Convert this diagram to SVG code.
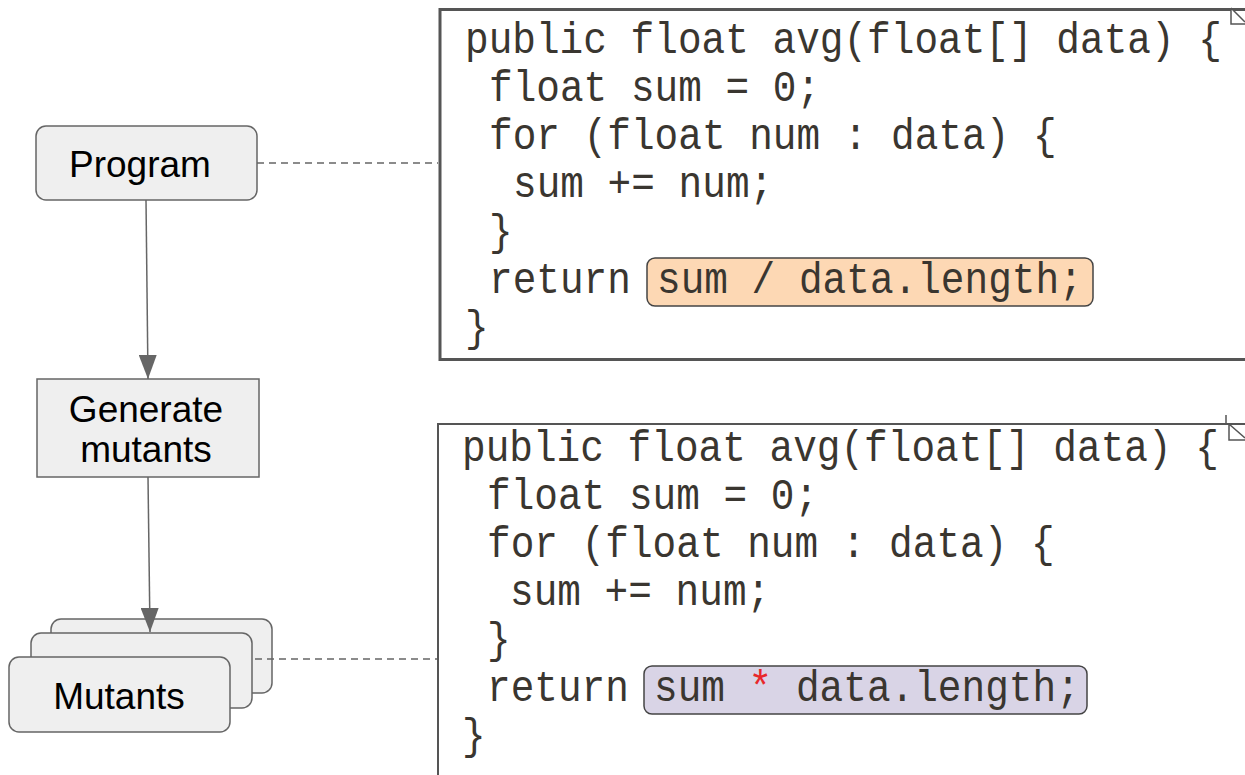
<svg xmlns="http://www.w3.org/2000/svg" width="1245" height="775" viewBox="0 0 1245 775">
<defs>
<marker id="ah" viewBox="0 0 24 18" refX="24" refY="9" markerWidth="24" markerHeight="18" markerUnits="userSpaceOnUse" orient="auto">
<path d="M0,0 L24,9 L0,18 Z" fill="#666"/>
</marker>
<style>
.node{fill:#efefef;stroke:#666;stroke-width:1.5}
.lbl{font-family:"Liberation Sans",Arial,sans-serif;font-size:37px;fill:#000;text-anchor:middle}
.code{font-family:"Liberation Mono","DejaVu Sans Mono",monospace;font-size:44px;fill:#3a3630}
.dash{stroke:#666;stroke-width:1.5;stroke-dasharray:7,5;fill:none}
.arr{stroke:#666;stroke-width:1.5;fill:none}
.panel{fill:#fff;stroke:#555}
</style>
</defs>
<rect width="1245" height="775" fill="#fff"/>
<g id="program">
<rect class="node" x="36" y="126" width="221" height="74" rx="10"/>
<text class="lbl" x="140" y="177">Program</text>
</g>
<g id="generate">
<rect class="node" x="37" y="379" width="222" height="98"/>
<text class="lbl" x="146" y="422">Generate</text>
<text class="lbl" x="146" y="462">mutants</text>
</g>
<g id="mutants">
<rect class="node" x="51" y="619" width="221" height="74" rx="10"/>
<rect class="node" x="31" y="633" width="221" height="75" rx="10"/>
<rect class="node" x="9" y="657" width="221" height="75" rx="10"/>
<text class="lbl" x="119" y="709">Mutants</text>
</g>
<g id="code-original">
<rect class="panel" x="440" y="9.5" width="820" height="350" stroke-width="3"/>
<path d="M1231,8 V24 H1245 M1231,8 L1245,22" stroke="#555" stroke-width="1.5" fill="#fff"/>
<rect x="647" y="258" width="446" height="48" rx="8" fill="#fdd8b4" stroke="#444" stroke-width="1.5"/>
<text class="code" transform="translate(465,53) scale(0.896,1)">public float avg(float[] data) {</text>
<text class="code" transform="translate(489,101) scale(0.896,1)">float sum = 0;</text>
<text class="code" transform="translate(489,149) scale(0.896,1)">for (float num : data) {</text>
<text class="code" transform="translate(513,197) scale(0.896,1)">sum += num;</text>
<text class="code" transform="translate(489,245) scale(0.896,1)">}</text>
<text class="code" transform="translate(489,293) scale(0.896,1)">return</text>
<text class="code" transform="translate(657,293) scale(0.896,1)">sum / data.length;</text>
<text class="code" transform="translate(465,341) scale(0.896,1)">}</text>
</g>
<g id="code-mutant">
<rect class="panel" x="438" y="424" width="820" height="360" stroke-width="2"/>
<path d="M1226,415 V424 M1229,424 V440 H1245 M1229,424 L1245,438" stroke="#555" stroke-width="1.5" fill="#fff"/>
<rect x="644" y="666" width="443" height="48" rx="8" fill="#d9d4e6" stroke="#444" stroke-width="1.5"/>
<text class="code" transform="translate(462,461) scale(0.896,1)">public float avg(float[] data) {</text>
<text class="code" transform="translate(487,509) scale(0.896,1)">float sum = 0;</text>
<text class="code" transform="translate(487,557) scale(0.896,1)">for (float num : data) {</text>
<text class="code" transform="translate(510,605) scale(0.896,1)">sum += num;</text>
<text class="code" transform="translate(487,653) scale(0.896,1)">}</text>
<text class="code" transform="translate(487,701) scale(0.896,1)">return</text>
<text class="code" transform="translate(654,701) scale(0.896,1)">sum <tspan fill="#e8282b">*</tspan> data.length;</text>
<text class="code" transform="translate(462,749) scale(0.896,1)">}</text>
</g>
<g id="connectors">
<line class="dash" x1="257" y1="163" x2="438" y2="163"/>
<line class="dash" x1="255" y1="659" x2="437" y2="659"/>
<line class="arr" x1="146" y1="200" x2="148" y2="379" marker-end="url(#ah)"/>
<line class="arr" x1="148" y1="477" x2="150" y2="632" marker-end="url(#ah)"/>
</g>
</svg>
